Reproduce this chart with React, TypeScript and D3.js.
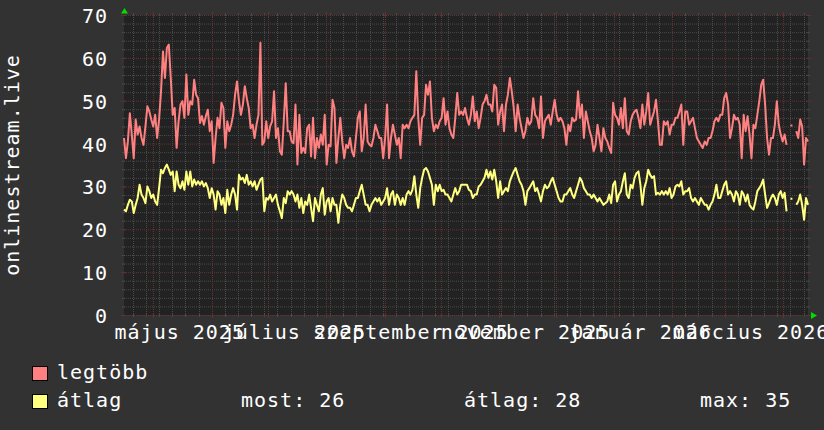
import React from 'react';
import * as d3 from 'd3';

// "legtöbb" (max) series
const maxValues: (number | null)[] = [
  41.3, 36.6, 40.5, 47.1, 42.1, 36.6, 45.6, 42.1, 44.0, 41.3, 39.7, 44.0, 48.7, 47.5, 45.6, 44.0, 46.7, 41.3, 45.6, 52.2,
  61.5, 55.3, 62.3, 63.1, 55.3, 46.7, 48.3, 39.0, 45.2, 49.1, 49.9, 46.0, 56.1, 46.7, 49.9, 49.1, 54.9, 51.4, 50.6, 44.8,
  46.4, 44.4, 46.4, 47.9, 42.9, 45.2, 35.5, 41.3, 46.0, 43.6, 49.5, 48.3, 39.0, 45.2, 42.9, 44.4, 46.7, 51.4, 54.5, 49.9,
  46.7, 49.1, 53.4, 50.6, 48.3, 43.6, 44.4, 41.3, 44.4, 46.7, 63.5, 39.7, 40.5, 45.2, 41.3, 44.0, 45.2, 52.2, 41.3, 43.6,
  38.2, 37.4, 45.2, 54.1, 42.9, 42.9, 40.5, 40.1,
  49.1, 35.1, 46.7, 37.8, 39.0, 37.8, 43.6, 44.4, 37.0, 46.0, 36.6, 41.3, 39.0, 42.1, 39.7, 46.7, 35.1, 39.7, 39.4, 50.2,
  48.3, 35.5, 41.3, 46.0, 40.5, 36.6, 39.7, 39.0, 41.3, 38.2, 37.0, 41.3, 46.0, 47.5, 38.2, 41.3, 49.1, 40.5, 39.7, 39.4,
  41.3, 44.4, 42.9, 41.3, 41.3, 36.6, 41.3, 49.1, 36.6, 41.3, 44.4, 42.1, 39.7, 41.3, 36.6, 44.4, 43.6, 44.4, 43.6, 45.2,
  46.0, 46.7, 56.9, 46.0, 39.7, 46.0, 46.7, 53.7, 51.4, 54.5, 46.0, 42.9, 44.4, 43.6, 45.2, 46.0, 50.6, 44.4, 47.5, 43.6,
  42.1, 41.3, 46.0, 51.8, 46.7, 47.5, 46.7, 48.3,
  46.0, 44.4, 46.7, 51.0, 45.2, 47.5, 43.6, 46.0, 49.1, 49.9, 51.4, 49.1, 49.1, 47.5, 53.7, 53.0, 44.4, 47.5, 49.1, 42.9,
  49.1, 51.4, 55.3, 52.2, 48.3, 42.9, 49.1, 46.0, 43.6, 41.3, 42.9, 46.0, 44.4, 45.2, 50.6, 46.7, 46.0, 43.6, 51.0, 41.3,
  45.2, 46.0, 46.7, 44.4, 47.5, 50.2, 46.7, 45.2, 46.0, 45.2, 43.6, 39.7, 44.4, 42.9, 46.0, 45.2, 45.6, 52.2, 46.0, 49.1,
  41.3, 47.5, 45.2, 42.9, 41.3, 38.2, 39.7, 44.4, 41.3, 38.2, 43.6, 41.3, 40.5, 39.0, 37.8, 49.5, 46.7, 46.0, 44.4, 48.3,
  43.6, 50.6, 42.9, 42.1, 45.2, 46.7, 47.5, 47.9,
  46.0, 43.6, 49.1, 44.4, 47.5, 51.8, 44.4, 46.0, 47.5, 50.2, 45.2, 39.7, 39.7, 45.2, 44.4, 45.2, 42.1, 44.4, 44.4, 46.0,
  46.0, 47.5, 49.1, 39.7, 47.5, 47.5, 44.4, 45.2, 46.0, 43.6, 41.3, 40.5, 39.7, 39.0, 40.5, 39.7, 41.3, 41.3, 42.9, 45.2,
  46.0, 45.2, 46.7, 46.7, 50.6, 51.8, 49.1, 41.3, 43.6, 46.7, 45.6, 46.0, 44.4, 36.6, 46.7, 42.9, 46.4, 42.1, 36.6, 44.4,
  43.6, 46.7, 49.9, 53.7, 54.9, 49.1, 41.3, 37.4, 41.3, 41.3, 44.4, 49.9, 44.4, 42.1, 40.5, 42.1, 39.7, null, 44.2, 44.2,
  null, 42.9, 41.3, 45.6, 44.0, 35.1, 41.3, 40.5,
];

// "átlag" (average) series
const avgValues: (number | null)[] = [
  24.6, 24.2, 25.7, 26.9, 26.5, 23.8, 25.7, 27.3, 30.4, 28.1, 27.3, 26.1, 30.0, 28.9, 27.3, 28.1, 26.5, 25.7, 29.6, 33.9,
  33.1, 34.3, 35.1, 33.9, 32.7, 33.5, 28.9, 33.5, 30.4, 29.6, 31.2, 29.2, 33.5, 30.4, 33.5, 30.0, 31.6, 30.4, 31.2, 30.4,
  31.2, 30.0, 30.8, 29.6, 27.3, 29.6, 28.1, 24.6, 28.9, 28.1, 25.7, 27.3, 23.8, 29.2, 25.7, 28.1, 29.6, 28.1, 24.6, 32.7,
  31.6, 32.0, 30.8, 32.7, 30.4, 31.2, 30.0, 31.2, 29.2, 30.4, 31.6, 32.0, 24.2, 27.3, 26.9, 28.1, 26.5, 27.3, 28.1, 25.7,
  24.2, 22.6, 27.3, 26.1, 28.9, 28.1, 28.9, 28.1,
  26.5, 28.1, 25.0, 27.3, 23.8, 26.5, 25.7, 28.1, 25.0, 21.9, 27.3, 25.7, 24.2, 28.1, 29.6, 23.4, 26.5, 27.3, 24.2, 27.3,
  25.7, 25.7, 21.5, 25.7, 28.1, 27.3, 25.7, 25.0, 25.0, 24.2, 25.7, 27.3, 27.3, 28.9, 30.4, 28.1, 25.7, 25.7, 24.2, 25.7,
  26.5, 27.3, 26.5, 27.3, 25.7, 26.5, 27.3, 29.6, 25.7, 28.1, 28.9, 25.7, 28.1, 27.3, 25.7, 27.3, 25.7, 28.1, 28.9, 28.1,
  29.2, 32.4, 28.1, 25.0, 29.6, 32.0, 33.9, 34.3, 33.5, 32.0, 30.4, 25.7, 30.4, 28.9, 30.4, 28.9, 29.2, 28.1, 28.1, 27.3,
  26.5, 28.1, 29.6, 28.1, 28.9, 30.4, 30.4, 30.4,
  30.4, 29.2, 28.9, 27.3, 28.1, 28.1, 30.0, 30.4, 31.2, 32.0, 33.9, 32.0, 33.5, 31.6, 33.9, 31.2, 27.3, 31.2, 28.1, 28.9,
  29.6, 28.9, 31.2, 32.4, 33.5, 34.3, 32.7, 31.2, 30.4, 28.9, 25.7, 28.9, 29.6, 30.4, 31.2, 28.9, 29.6, 28.1, 26.5, 28.9,
  30.4, 29.6, 30.0, 31.2, 32.0, 30.4, 28.9, 27.3, 26.5, 26.5, 28.1, 28.1, 28.9, 29.6, 28.1, 27.3, 28.9, 30.4, 32.0, 31.2,
  29.6, 28.9, 28.1, 28.1, 27.3, 28.1, 27.3, 26.5, 27.3, 26.5, 25.7, 26.1, 26.5, 28.1, 26.1, 30.4, 31.2, 26.5, 28.1, 28.9,
  31.2, 33.1, 28.1, 27.3, 30.4, 29.6, 32.0, 33.1,
  33.5, 30.4, 25.7, 29.6, 31.2, 33.9, 32.7, 32.0, 32.4, 28.1, 28.5, 28.1, 28.9, 28.1, 28.9, 28.1, 29.6, 27.3, 28.1, 30.0,
  30.4, 30.0, 31.2, 28.1, 28.9, 28.9, 29.6, 27.3, 26.5, 27.3, 26.5, 25.7, 27.3, 26.5, 25.7, 25.7, 24.6, 25.7, 26.5, 28.1,
  30.4, 27.3, 27.3, 28.9, 30.4, 31.2, 28.1, 28.9, 28.1, 26.5, 28.9, 28.1, 25.7, 28.9, 28.1, 26.5, 28.1, 25.7, 25.0, 24.6,
  26.5, 28.9, 29.6, 30.4, 31.6, 28.1, 25.0, 26.1, 27.3, 28.1, 27.3, 25.7, 28.1, 28.9, 27.3, 28.5, 24.2, null, 27.1, 27.1,
  null, 25.7, 26.5, 28.1, 25.7, 22.2, 27.3, 25.7,
];

const yTicks = [0, 10, 20, 30, 40, 50, 60, 70];
const xLabelMonths = ['2025-05-01', '2025-07-01', '2025-09-01', '2025-11-01', '2026-01-01', '2026-03-01'];
const xLabels = ['május 2025', 'július 2025', 'szeptember 2025', 'november 2025', 'január 2026', 'március 2026'];
const legendNames = ['legtöbb', 'átlag'];
const seriesColors = ['#ff8080', '#ffff80'];
const statLabels = ['most: 26', 'átlag: 28', 'max: 35'];
const yTitle = 'onlinestream.live';
const startTime = Date.UTC(2025, 3, 15, 8);
const endTime = Date.UTC(2026, 3, 14, 8);

const W = 824;
const H = 430;
const X0 = 124;
const X1 = 808;
const Y0 = 315;
const YN = 15;
const FONT = '"DejaVu Sans Mono", monospace';
const MINOR = '#4a4a4a';
const MAJOR = '#643232';

export default function App() {
  const start = new Date(startTime);
  const end = new Date(endTime);
  const x = d3.scaleUtc().domain([start, end]).range([X0, X1]);
  const y = d3.scaleLinear().domain([0, 70]).range([Y0, YN]);

  const n = maxValues.length;
  const step = (endTime - startTime) / (n - 1);
  const dateAt = (i: number) => new Date(startTime + i * step);

  const line = d3
    .line<number | null>()
    .defined((d) => d != null)
    .x((_, i) => x(dateAt(i)))
    .y((d) => y(d as number));

  const minorH = d3.range(0, 71, 2).filter((v) => v % 10 !== 0);
  const weeks = d3.utcSunday.range(start, end);
  const months = d3.utcMonth.range(start, end);

  return (
    <svg
      width={W}
      height={H}
      style={{ position: 'absolute', left: 0, top: 0, display: 'block' }}
      fontFamily={FONT}
    >
      <rect x={0} y={0} width={W} height={H} fill="#323232" />
      <rect x={X0} y={YN} width={X1 - X0} height={Y0 - YN} fill="#222222" />

      {/* minor horizontal grid */}
      {minorH.map((v) => (
        <g key={'mh' + v}>
          <line x1={X0} x2={X1} y1={y(v) + 0.5} y2={y(v) + 0.5} stroke={MINOR} strokeDasharray="1,1" />
          <line x1={X0 - 2} x2={X0 + 1} y1={y(v) + 0.5} y2={y(v) + 0.5} stroke={MINOR} />
          <line x1={X1 - 1} x2={X1 + 2} y1={y(v) + 0.5} y2={y(v) + 0.5} stroke={MINOR} />
        </g>
      ))}
      {/* minor vertical grid (weeks) */}
      {weeks.map((d, i) => (
        <g key={'wv' + i}>
          <line x1={Math.round(x(d)) + 0.5} x2={Math.round(x(d)) + 0.5} y1={YN} y2={Y0} stroke={MINOR} strokeDasharray="1,1" />
          <line x1={Math.round(x(d)) + 0.5} x2={Math.round(x(d)) + 0.5} y1={Y0 - 1} y2={Y0 + 2} stroke={MINOR} />
          <line x1={Math.round(x(d)) + 0.5} x2={Math.round(x(d)) + 0.5} y1={YN - 2} y2={YN + 1} stroke={MINOR} />
        </g>
      ))}
      {/* major horizontal grid */}
      {yTicks.map((v) => (
        <g key={'MH' + v}>
          <line x1={X0} x2={X1} y1={y(v) + 0.5} y2={y(v) + 0.5} stroke={MAJOR} strokeDasharray="1,1" />
          <line x1={X0 - 3} x2={X0 + 2} y1={y(v) + 0.5} y2={y(v) + 0.5} stroke={MAJOR} />
          <line x1={X1 - 2} x2={X1 + 3} y1={y(v) + 0.5} y2={y(v) + 0.5} stroke={MAJOR} />
        </g>
      ))}
      {/* major vertical grid (months) */}
      {months.map((d, i) => (
        <g key={'MV' + i}>
          <line x1={Math.round(x(d)) + 0.5} x2={Math.round(x(d)) + 0.5} y1={YN} y2={Y0} stroke={MAJOR} strokeDasharray="1,1" />
          <line x1={Math.round(x(d)) + 0.5} x2={Math.round(x(d)) + 0.5} y1={Y0 - 2} y2={Y0 + 3} stroke={MAJOR} />
          <line x1={Math.round(x(d)) + 0.5} x2={Math.round(x(d)) + 0.5} y1={YN - 3} y2={YN + 2} stroke={MAJOR} />
        </g>
      ))}

      {/* data */}
      <path d={line(maxValues) || ''} fill="none" stroke={seriesColors[0]} strokeWidth={2} strokeLinejoin="round" />
      <path d={line(avgValues) || ''} fill="none" stroke={seriesColors[1]} strokeWidth={2} strokeLinejoin="round" />

      {/* arrows */}
      <polygon points={`${X0 - 3},${YN - 1.5} ${X0 + 4},${YN - 1.5} ${X0 + 0.5},${YN - 7}`} fill="#00dd00" />
      <polygon points={`${X1 + 3},${Y0 - 3} ${X1 + 3},${Y0 + 4} ${X1 + 9},${Y0 + 0.5}`} fill="#00dd00" />

      {/* y tick labels */}
      {yTicks.map((v) => (
        <text key={'yl' + v} x={108} y={y(v) + 8} textAnchor="end" fill="#ffffff" fontSize={20} letterSpacing={1}>
          {String(v)}
        </text>
      ))}

      {/* x labels */}
      {xLabelMonths.map((m, i) => {
        const t = d3.utcDay.offset(new Date(m + 'T00:00:00Z'), 14);
        return (
          <text key={'xl' + i} x={x(t)} y={339} textAnchor="middle" fill="#ffffff" fontSize={20} letterSpacing={1}>
            {xLabels[i]}
          </text>
        );
      })}

      {/* y title */}
      <text
        transform={`translate(19,165) rotate(-90)`}
        textAnchor="middle"
        fill="#ffffff"
        fontSize={20}
        letterSpacing={1}
      >
        {yTitle}
      </text>

      {/* legend */}
      {legendNames.map((name, i) => (
        <g key={'lg' + i}>
          <rect x={32.5} y={366.5 + i * 28} width={15} height={14} fill={seriesColors[i]} stroke="#000" strokeWidth={1} />
          <text x={57} y={379 + i * 28} fill="#ffffff" fontSize={20} letterSpacing={1}>
            {name}
          </text>
        </g>
      ))}
      {statLabels.map((s, i) => (
        <text key={'st' + i} x={[241, 464, 700][i]} y={407} fill="#ffffff" fontSize={20} letterSpacing={1}>
          {s}
        </text>
      ))}
    </svg>
  );
}
